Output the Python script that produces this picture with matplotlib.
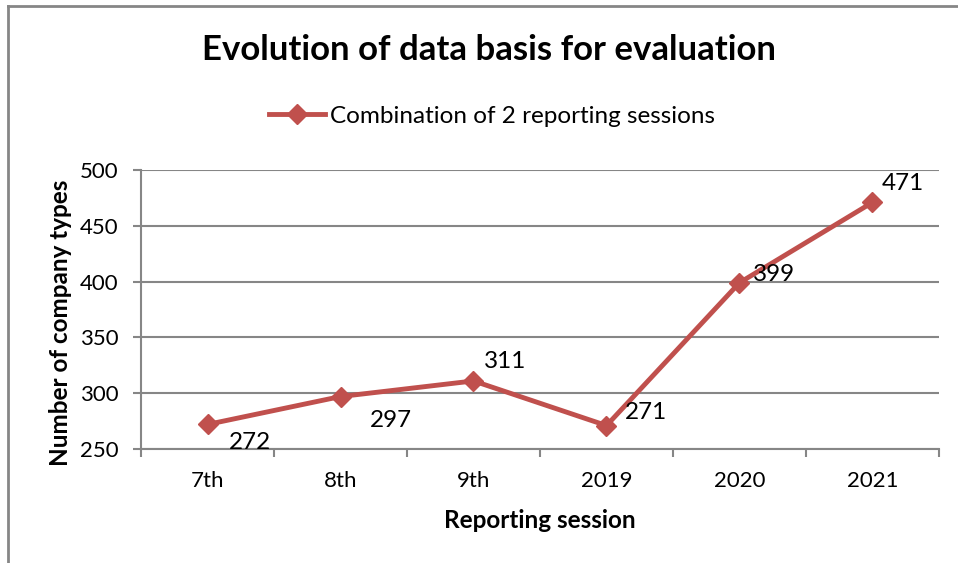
import matplotlib.pyplot as plt
from matplotlib.lines import Line2D

sessions = ['7th', '8th', '9th', '2019', '2020', '2021']
company_types = [272, 297, 311, 271, 399, 471]
y_ticks = [250, 300, 350, 400, 450, 500]

# label offsets in pixels (Excel places them a bit oddly)
label_offsets = [(43, -18), (50, -24), (32, 19), (40, 13), (35, 8), (30, 19)]

plt.rcParams['font.family'] = ['Lato', 'DejaVu Sans']

red = '#C0504D'
grey = '#868686'

fig = plt.figure(figsize=(9.58, 5.63), dpi=100)
ax = fig.add_axes([141 / 958, 114 / 563, 798 / 958, 279 / 563])

x = list(range(len(sessions)))
line, = ax.plot(x, company_types, color=red, lw=3.5, marker='D', markersize=10,
                label='Combination of 2 reporting sessions', zorder=3)

for xi, v, off in zip(x, company_types, label_offsets):
    ax.annotate(str(v), (xi, v), xytext=off, textcoords='offset pixels',
                ha='center', va='center', fontsize=17.5, color='black')

ax.set_xlim(-0.5, len(sessions) - 0.5)
ax.set_ylim(y_ticks[0], y_ticks[-1])
ax.set_yticks(y_ticks)
ax.set_xticks([i - 0.5 for i in range(len(sessions) + 1)])
ax.set_xticklabels([])
ax.set_xticks(x, minor=True)
ax.set_xticklabels(sessions, minor=True)
ax.tick_params(axis='x', which='minor', length=0, pad=16, labelsize=16)
ax.tick_params(axis='x', which='major', length=6, width=1.5, color=grey, direction='out')
ax.tick_params(axis='y', length=6, width=1.5, color=grey, labelsize=16, pad=10)

ax.grid(axis='y', color=grey, lw=1.5)
ax.set_axisbelow(True)
for side in ['top', 'right']:
    ax.spines[side].set_visible(False)
for side in ['left', 'bottom']:
    ax.spines[side].set_color(grey)
    ax.spines[side].set_linewidth(1.5)

ax.set_xlabel('Reporting session', fontsize=17.5, fontweight='bold', labelpad=13)
ax.set_ylabel('Number of company types', fontsize=17.5, fontweight='bold')
ax.yaxis.set_label_coords(-0.087, 0.452)

fig.text(489 / 958, 1 - 50 / 563, 'Evolution of data basis for evaluation',
         ha='center', va='center', fontsize=25, fontweight='bold')

fig.legend(handles=[line], loc='center', bbox_to_anchor=(492 / 958, 1 - 116 / 563),
           frameon=False, fontsize=17.5, handlelength=2.3, handletextpad=0.2)

# chart frame (only left and top edges visible in the crop)
fig.add_artist(Line2D([8 / 958, 8 / 958], [0, 1 - 6 / 563], color=grey, lw=2,
                      transform=fig.transFigure))
fig.add_artist(Line2D([8 / 958, 1], [1 - 6 / 563, 1 - 6 / 563], color=grey, lw=2,
                      transform=fig.transFigure))

fig.savefig('out.png', dpi=100)
